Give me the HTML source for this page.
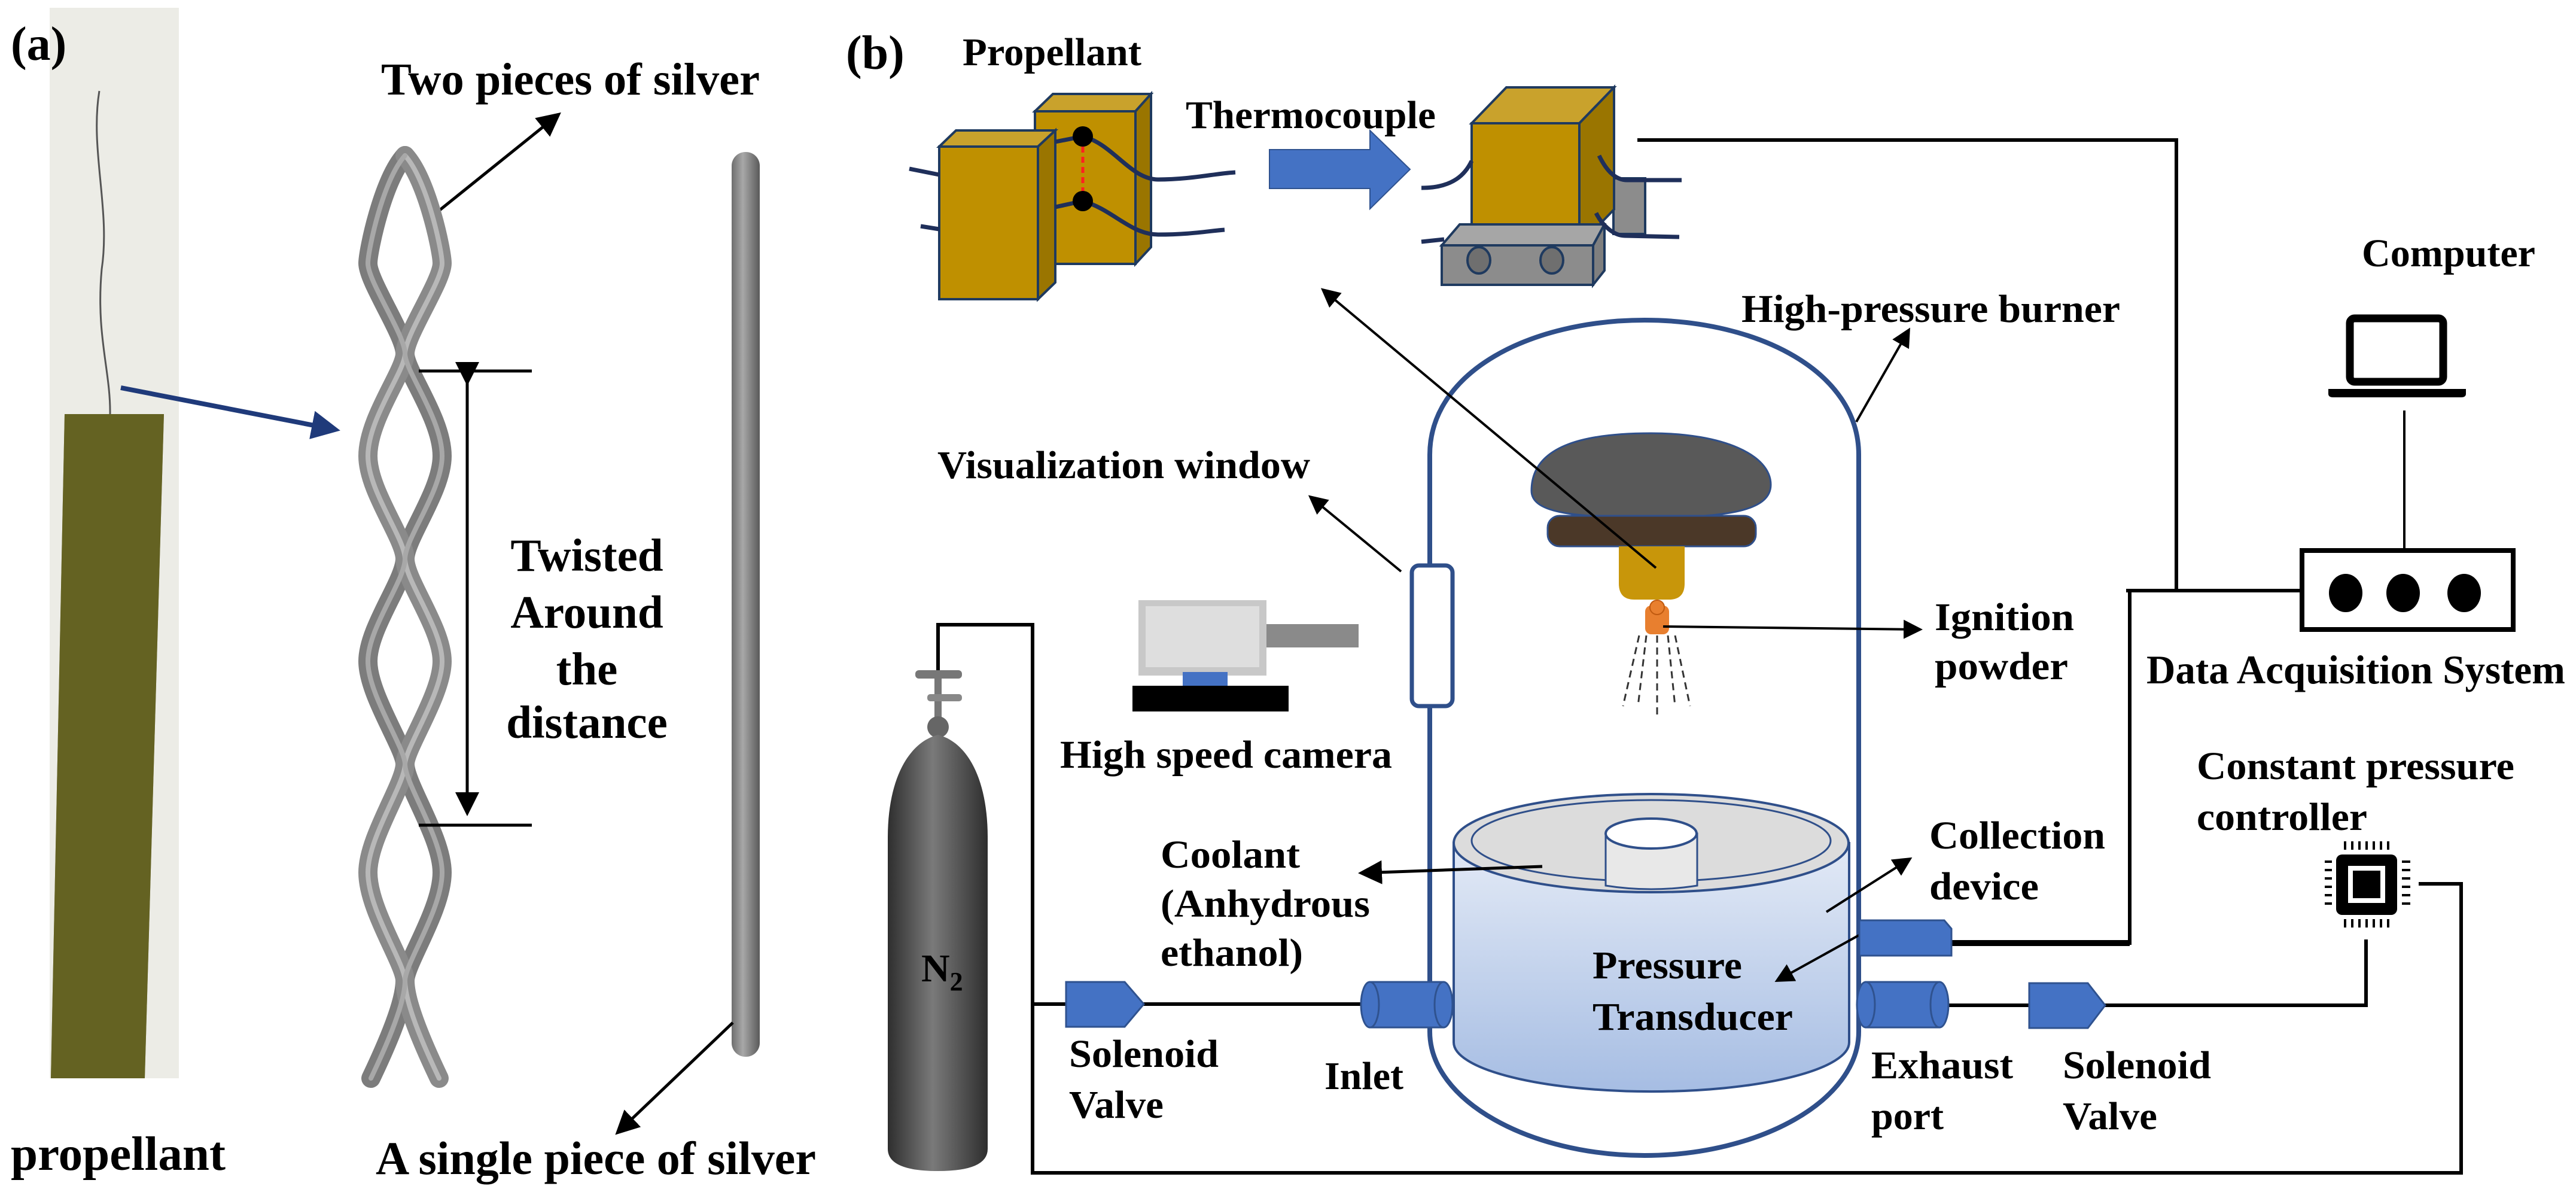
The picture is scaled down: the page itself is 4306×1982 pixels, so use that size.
<!DOCTYPE html>
<html><head><meta charset="utf-8"><style>
html,body{margin:0;padding:0;background:#fff;}
svg{display:block;}
text{font-family:"Liberation Serif",serif;font-weight:bold;fill:#000;}
</style></head><body>
<svg width="4306" height="1982" viewBox="0 0 4306 1982" xmlns="http://www.w3.org/2000/svg" font-family="Liberation Serif, serif">
<defs>
<marker id="ah" markerWidth="8" markerHeight="8" refX="7" refY="4" orient="auto" markerUnits="strokeWidth"><path d="M0,0 L8,4 L0,8 z" fill="#000"/></marker>
<marker id="ahb" markerWidth="6" markerHeight="6" refX="5" refY="3" orient="auto" markerUnits="strokeWidth"><path d="M0,0 L6,3 L0,6 z" fill="#1f3a7a"/></marker>
<linearGradient id="rod" x1="0" x2="1" y1="0" y2="0"><stop offset="0" stop-color="#6e6e6e"/><stop offset="0.4" stop-color="#a8a8a8"/><stop offset="1" stop-color="#5a5a5a"/></linearGradient>
<linearGradient id="cyl" x1="0" x2="1"><stop offset="0" stop-color="#2e2e2e"/><stop offset="0.45" stop-color="#7a7a7a"/><stop offset="1" stop-color="#2e2e2e"/></linearGradient>
<linearGradient id="cool" x1="0" x2="0" y1="0" y2="1"><stop offset="0" stop-color="#e3eaf6"/><stop offset="1" stop-color="#a6bde3"/></linearGradient>
</defs>

<!-- Panel (a) -->
<rect x="83" y="13" width="216" height="1789" fill="#ecece6"/>
<path d="M166 152 C150 250 185 350 170 450 C160 560 185 620 184 692" stroke="#555" stroke-width="3" fill="none"/>
<path d="M108 692 L274 692 L242 1802 L85 1802 Z" fill="#5a5520"/>
<path d="M108 692 L274 692 L242 1802 L85 1802 Z" fill="#6b6a24" opacity="0.6"/>
<line x1="202" y1="648" x2="561" y2="718" stroke="#1f3a7a" stroke-width="8" marker-end="url(#ahb)"/>
<text x="18" y="100" font-size="80">(a)</text>
<text x="18" y="1955" font-size="80" textLength="359" lengthAdjust="spacingAndGlyphs">propellant</text>

<text x="637" y="158" font-size="76" textLength="633" lengthAdjust="spacingAndGlyphs">Two pieces of silver</text>
<line x1="714" y1="368" x2="934" y2="191" stroke="#000" stroke-width="5" marker-end="url(#ah)"/>
<g fill="none" stroke-linecap="round">
<path d="M677 260 C640 300 615 420 615 440 C615 470 677 560 677 591 C677 620 739 700 739 762 C739 820 677 900 677 934 C677 970 615 1050 615 1105 C615 1160 677 1250 677 1277 C677 1310 739 1400 739 1458 C739 1520 677 1610 677 1639 C677 1680 640 1760 620 1802" stroke="#7c7c7c" stroke-width="32"/>
<path d="M677 260 C714 300 739 420 739 440 C739 470 677 560 677 591 C677 620 615 700 615 762 C615 820 677 900 677 934 C677 970 739 1050 739 1105 C739 1160 677 1250 677 1277 C677 1310 615 1400 615 1458 C615 1520 677 1610 677 1639 C677 1680 714 1760 734 1802" stroke="#8a8a8a" stroke-width="32"/>
<path d="M677 260 C714 300 739 420 739 440 C739 470 677 560 677 591 C677 620 615 700 615 762 C615 820 677 900 677 934 C677 970 739 1050 739 1105 C739 1160 677 1250 677 1277 C677 1310 615 1400 615 1458 C615 1520 677 1610 677 1639 C677 1680 714 1760 734 1802" stroke="#b8b8b8" stroke-width="8"/>
<path d="M677 260 C640 300 615 420 615 440 C615 470 677 560 677 591 C677 620 739 700 739 762 C739 820 677 900 677 934 C677 970 615 1050 615 1105 C615 1160 677 1250 677 1277 C677 1310 739 1400 739 1458 C739 1520 677 1610 677 1639 C677 1680 640 1760 620 1802" stroke="#a8a8a8" stroke-width="8"/>
</g>
<line x1="700" y1="620" x2="889" y2="620" stroke="#000" stroke-width="5"/>
<line x1="700" y1="1379" x2="889" y2="1379" stroke="#000" stroke-width="5"/>
<line x1="781" y1="640" x2="781" y2="1359" stroke="#000" stroke-width="5" marker-start="url(#ah)" marker-end="url(#ah)"/>
<g font-size="77" text-anchor="middle">
<text x="981" y="954">Twisted</text>
<text x="981" y="1049">Around</text>
<text x="981" y="1144">the</text>
<text x="981" y="1233">distance</text>
</g>
<rect x="1223" y="254" width="47" height="1512" rx="23" fill="url(#rod)"/>
<line x1="1225" y1="1709" x2="1032" y2="1893" stroke="#000" stroke-width="5" marker-end="url(#ah)"/>
<text x="628" y="1962" font-size="78" textLength="736" lengthAdjust="spacingAndGlyphs">A single piece of silver</text>

<!-- Panel (b) -->
<text x="1414" y="115" font-size="80">(b)</text>
<text x="1609" y="109" font-size="66" textLength="299" lengthAdjust="spacingAndGlyphs">Propellant</text>
<g stroke="#1f3a5f" stroke-width="4">
<path d="M1730 186 L1760 157 L1924 157 L1898 186 Z" fill="#c9a22c"/>
<path d="M1898 186 L1924 157 L1924 413 L1898 441 Z" fill="#9a7500"/>
<rect x="1730" y="186" width="168" height="255" fill="#bf9000"/>
<path d="M1570 245 L1598 218 L1764 218 L1735 245 Z" fill="#c9a22c"/>
<path d="M1735 245 L1764 218 L1764 472 L1735 500 Z" fill="#9a7500"/>
<rect x="1570" y="245" width="165" height="255" fill="#bf9000"/>
</g>
<line x1="1810" y1="228" x2="1810" y2="336" stroke="#ff2020" stroke-width="5" stroke-dasharray="10 7"/>
<g fill="none" stroke="#1f2f5a" stroke-width="7">
<path d="M1520 282 L1570 292"/><path d="M1539 378 L1570 383"/>
<path d="M1764 237 L1810 228 C1860 240 1890 300 1936 300 C1990 300 2030 290 2065 288"/>
<path d="M1764 346 L1810 336 C1860 350 1890 392 1936 392 C1990 392 2020 386 2047 384"/>
</g>
<circle cx="1810" cy="228" r="17" fill="#000"/><circle cx="1810" cy="336" r="17" fill="#000"/>
<path d="M2122 250 L2290 250 L2290 218 L2357 283 L2290 349 L2290 315 L2122 315 Z" fill="#4472c4" stroke="#2f528f" stroke-width="2"/>
<text x="1982" y="214" font-size="66" textLength="418" lengthAdjust="spacingAndGlyphs">Thermocouple</text>
<g stroke="#1f3a5f" stroke-width="4">
<rect x="2697" y="298" width="53" height="93" fill="#8c8c8c"/>
<path d="M2460 206 L2518 146 L2698 146 L2640 206 Z" fill="#c9a22c"/>
<path d="M2640 206 L2698 146 L2698 350 L2640 410 Z" fill="#9a7500"/>
<rect x="2460" y="206" width="180" height="172" fill="#bf9000"/>
<path d="M2410 410 L2440 375 L2682 375 L2663 410 Z" fill="#a6a6a6"/>
<path d="M2663 410 L2682 375 L2682 452 L2663 476 Z" fill="#7f7f7f"/>
<rect x="2410" y="410" width="253" height="66" fill="#8c8c8c"/>
<ellipse cx="2472" cy="435" rx="19" ry="22" fill="#6f6f6f"/>
<ellipse cx="2594" cy="435" rx="19" ry="22" fill="#6f6f6f"/>
</g>
<g fill="none" stroke="#1f2f5a" stroke-width="7">
<path d="M2376 314 C2430 314 2450 290 2460 269"/><path d="M2376 404 L2414 400"/>
<path d="M2673 260 C2685 285 2700 301 2720 301 L2811 301"/>
<path d="M2668 356 C2680 380 2700 394 2716 394 L2807 396"/>
</g>
<g fill="none" stroke="#000" stroke-width="6">
<path d="M2737 234 H3638 V987"/>
<path d="M3554 987 H3848"/>
<path d="M3560 987 V1576 H3262"/>
<path d="M4019 686 V920" stroke-width="4"/>
<path d="M1568 1190 V1044 H1726 V1960 H4114 V1477 H4043"/>
<path d="M1726 1678 H2275"/>
<path d="M3257 1680 H3955 V1570"/>
</g>
<path d="M3560 1576 H3262" stroke="#000" stroke-width="10"/>
<path d="M2390 1724 L2390 760 C2390 620 2560 535 2749 535 C2938 535 3107 620 3107 760 L3107 1724 C3107 1840 2940 1931 2749 1931 C2558 1931 2390 1840 2390 1724 Z" fill="none" stroke="#2f4f8a" stroke-width="8"/>
<rect x="2360" y="945" width="68" height="235" rx="12" fill="#fff" stroke="#2f4f8a" stroke-width="7"/>
<path d="M2560 820 C2560 740 2660 724 2760 724 C2880 724 2960 760 2960 810 C2960 850 2900 865 2760 865 C2620 865 2560 855 2560 820 Z" fill="#595959" stroke="#2f4f8a" stroke-width="3"/>
<rect x="2587" y="862" width="348" height="51" rx="20" fill="#4b3828" stroke="#2f4f8a" stroke-width="3"/>
<path d="M2706 913 L2816 913 L2816 975 Q2816 1002 2790 1002 L2732 1002 Q2706 1002 2706 975 Z" fill="#c8960a"/>
<rect x="2750" y="1012" width="40" height="48" rx="10" fill="#e87f2f"/>
<circle cx="2770" cy="1015" r="12" fill="#e87f2f" stroke="#c05a10" stroke-width="2"/>
<g stroke="#333" stroke-width="3" stroke-dasharray="12 8">
<line x1="2740" y1="1062" x2="2713" y2="1180"/><line x1="2752" y1="1062" x2="2738" y2="1180"/>
<line x1="2770" y1="1062" x2="2770" y2="1200"/><line x1="2788" y1="1062" x2="2800" y2="1180"/>
<line x1="2800" y1="1062" x2="2825" y2="1180"/>
</g>
<g stroke="#000" stroke-width="4" fill="none">
<line x1="2768" y1="949" x2="2211" y2="484" marker-end="url(#ah)"/>
<line x1="2342" y1="955" x2="2190" y2="830" marker-end="url(#ah)"/>
<line x1="3103" y1="705" x2="3191" y2="551" marker-end="url(#ah)"/>
<line x1="2780" y1="1047" x2="3210" y2="1052" marker-end="url(#ah)"/>
</g>
<text x="1567" y="799" font-size="66" textLength="623" lengthAdjust="spacingAndGlyphs">Visualization window</text>
<text x="2911" y="538" font-size="66" textLength="633" lengthAdjust="spacingAndGlyphs">High-pressure burner</text>
<text x="3948" y="445" font-size="66" textLength="290" lengthAdjust="spacingAndGlyphs">Computer</text>
<text x="3234" y="1053" font-size="66" textLength="233" lengthAdjust="spacingAndGlyphs">Ignition</text>
<text x="3234" y="1135" font-size="66" textLength="223" lengthAdjust="spacingAndGlyphs">powder</text>
<rect x="3928" y="532" width="156" height="106" rx="8" fill="#fff" stroke="#000" stroke-width="13"/>
<path d="M3892 650 H4122 V658 Q4122 664 4114 664 H3900 Q3892 664 3892 658 Z" fill="#000"/>
<rect x="3848" y="920" width="353" height="132" fill="#fff" stroke="#000" stroke-width="8"/>
<ellipse cx="3921" cy="991" rx="28" ry="32" fill="#000"/>
<ellipse cx="4017" cy="991" rx="28" ry="32" fill="#000"/>
<ellipse cx="4119" cy="991" rx="28" ry="32" fill="#000"/>
<text x="3588" y="1142" font-size="68" textLength="700" lengthAdjust="spacingAndGlyphs">Data Acquisition System</text>
<rect x="1903" y="1003" width="214" height="126" fill="#c8c8c8"/>
<rect x="1915" y="1013" width="190" height="102" fill="#dedede"/>
<rect x="2117" y="1043" width="154" height="39" fill="#8a8a8a"/>
<rect x="1977" y="1123" width="75" height="23" fill="#4472c4"/>
<rect x="1893" y="1146" width="261" height="43" fill="#000"/>
<text x="1772" y="1283" font-size="66" textLength="555" lengthAdjust="spacingAndGlyphs">High speed camera</text>
<rect x="1530" y="1120" width="78" height="14" rx="6" fill="#777"/>
<rect x="1562" y="1130" width="12" height="80" fill="#777"/>
<rect x="1550" y="1160" width="58" height="12" rx="5" fill="#888"/>
<circle cx="1568" cy="1215" r="18" fill="#666"/>
<path d="M1484 1400 C1484 1300 1520 1240 1568 1228 C1616 1240 1651 1300 1651 1400 L1651 1920 Q1651 1957 1568 1957 Q1484 1957 1484 1920 Z" fill="url(#cyl)"/>
<text x="1540" y="1640" font-size="66">N<tspan font-size="44" dy="15">2</tspan></text>
<path d="M2430 1409 L2430 1742 A330 82 0 0 0 3091 1742 L3091 1409 Z" fill="url(#cool)" stroke="#2f4f8a" stroke-width="4"/>
<ellipse cx="2760" cy="1409" rx="330" ry="82" fill="#dcdcdc" stroke="#2f4f8a" stroke-width="4"/>
<ellipse cx="2760" cy="1405" rx="300" ry="68" fill="#dcdcdc" stroke="#2f4f8a" stroke-width="3"/>
<path d="M2684 1393 L2684 1480 Q2760 1492 2837 1480 L2837 1393 Z" fill="#e8e8e8" stroke="#2f4f8a" stroke-width="3"/>
<ellipse cx="2760" cy="1393" rx="76" ry="25" fill="#fff" stroke="#2f4f8a" stroke-width="4"/>
<line x1="2578" y1="1448" x2="2275" y2="1459" stroke="#000" stroke-width="5" marker-end="url(#ah)"/>
<line x1="3053" y1="1524" x2="3193" y2="1435" stroke="#000" stroke-width="4" marker-end="url(#ah)"/>
<line x1="3109" y1="1562" x2="2970" y2="1639" stroke="#000" stroke-width="4" marker-end="url(#ah)"/>
<text x="1940" y="1450" font-size="66" textLength="233" lengthAdjust="spacingAndGlyphs">Coolant</text>
<text x="1940" y="1532" font-size="66" textLength="350" lengthAdjust="spacingAndGlyphs">(Anhydrous</text>
<text x="1940" y="1614" font-size="66" textLength="238" lengthAdjust="spacingAndGlyphs">ethanol)</text>
<text x="3225" y="1418" font-size="66" textLength="294" lengthAdjust="spacingAndGlyphs">Collection</text>
<text x="3225" y="1503" font-size="66" textLength="183" lengthAdjust="spacingAndGlyphs">device</text>
<text x="2662" y="1635" font-size="66" textLength="250" lengthAdjust="spacingAndGlyphs">Pressure</text>
<text x="2662" y="1721" font-size="66" textLength="335" lengthAdjust="spacingAndGlyphs">Transducer</text>
<path d="M3108 1538 L3250 1538 L3262 1552 L3262 1597 L3108 1597 Z" fill="#4472c4" stroke="#2f528f" stroke-width="3"/>
<polygon points="1782,1641 1880,1641 1912,1678 1880,1716 1782,1716" fill="#4472c4" stroke="#2f528f" stroke-width="3"/>
<polygon points="3392,1643 3490,1643 3519,1680 3490,1718 3392,1718" fill="#4472c4" stroke="#2f528f" stroke-width="3"/>
<g fill="#4472c4" stroke="#2f528f" stroke-width="3">
<rect x="2290" y="1641" width="123" height="76"/>
<ellipse cx="2290" cy="1679" rx="15" ry="38"/><ellipse cx="2413" cy="1679" rx="15" ry="38"/>
<rect x="3119" y="1641" width="123" height="76"/>
<ellipse cx="3119" cy="1679" rx="15" ry="38"/><ellipse cx="3242" cy="1679" rx="15" ry="38"/>
</g>
<text x="1787" y="1783" font-size="66" textLength="250" lengthAdjust="spacingAndGlyphs">Solenoid</text>
<text x="1787" y="1868" font-size="66" textLength="158" lengthAdjust="spacingAndGlyphs">Valve</text>
<text x="2214" y="1820" font-size="66" textLength="132" lengthAdjust="spacingAndGlyphs">Inlet</text>
<text x="3128" y="1802" font-size="66" textLength="237" lengthAdjust="spacingAndGlyphs">Exhaust</text>
<text x="3128" y="1887" font-size="66" textLength="121" lengthAdjust="spacingAndGlyphs">port</text>
<text x="3448" y="1802" font-size="66" textLength="248" lengthAdjust="spacingAndGlyphs">Solenoid</text>
<text x="3448" y="1887" font-size="66" textLength="158" lengthAdjust="spacingAndGlyphs">Valve</text>
<text x="3672" y="1302" font-size="66" textLength="531" lengthAdjust="spacingAndGlyphs">Constant pressure</text>
<text x="3672" y="1387" font-size="66" textLength="285" lengthAdjust="spacingAndGlyphs">controller</text>
<rect x="3905" y="1428" width="102" height="101" rx="10" fill="#000"/>
<rect x="3925" y="1447" width="62" height="62" fill="#fff"/>
<rect x="3933" y="1455" width="46" height="46" fill="#000"/>
<g stroke="#000" stroke-width="4">
<path d="M3920 1406 V1420 M3932 1406 V1420 M3944 1406 V1420 M3956 1406 V1420 M3968 1406 V1420 M3980 1406 V1420 M3992 1406 V1420"/>
<path d="M3920 1536 V1550 M3932 1536 V1550 M3944 1536 V1550 M3956 1536 V1550 M3968 1536 V1550 M3980 1536 V1550 M3992 1536 V1550"/>
<path d="M3886 1440 H3898 M3886 1454 H3898 M3886 1468 H3898 M3886 1482 H3898 M3886 1496 H3898 M3886 1510 H3898"/>
<path d="M4015 1440 H4029 M4015 1454 H4029 M4015 1468 H4029 M4015 1482 H4029 M4015 1496 H4029 M4015 1510 H4029"/>
</g>
</svg>
</body></html>
